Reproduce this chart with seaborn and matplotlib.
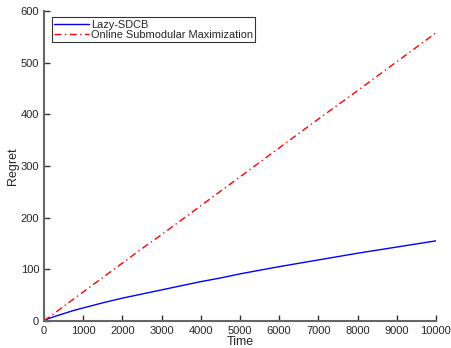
import numpy as np
import pandas as pd
import matplotlib
matplotlib.use("Agg")
import matplotlib.pyplot as plt
import seaborn as sns

# values
time = [0, 100, 250, 500, 750, 1000, 1500, 2000, 2500, 3000, 3500, 4000, 4500, 5000,
        6000, 7000, 8000, 9000, 10000]
lazy_sdcb = [0, 4, 8, 14, 20, 25, 35, 44, 52, 60, 68, 76, 83, 91,
             105, 118, 131, 143, 155]
online_submod = [0, 5.6, 14, 28, 42, 56, 84, 112, 140, 167, 195, 223, 251, 279,
                 335, 391, 446, 502, 558]

labels = ["Lazy-SDCB", "Online Submodular Maximization"]
x_ticks = [0, 1000, 2000, 3000, 4000, 5000, 6000, 7000, 8000, 9000, 10000]
y_ticks = [0, 100, 200, 300, 400, 500, 600]

df = pd.DataFrame({
    "Time": time * 2,
    "Regret": lazy_sdcb + online_submod,
    "method": [labels[0]] * len(time) + [labels[1]] * len(time),
})

sns.set_style("ticks")
plt.rcParams["font.family"] = ["Liberation Sans", "DejaVu Sans"]
plt.rcParams["font.size"] = 8

fig = plt.figure(figsize=(4.51, 3.48), dpi=100)
ax = fig.add_axes([0.0976, 0.078, 0.869, 0.890])

sns.lineplot(data=df, x="Time", y="Regret", hue="method", style="method",
             palette={labels[0]: "#0000ff", labels[1]: "#ff0000"},
             dashes={labels[0]: "", labels[1]: (5, 2.5, 1, 2.5)},
             linewidth=1.0, ax=ax)

ax.set_xlim(0, 10000)
ax.set_ylim(0, 600)
ax.set_xticks(x_ticks)
ax.set_yticks(y_ticks)
ax.tick_params(direction="in", length=4, width=1, colors="#333333",
               labelsize=8, labelcolor="#262626")
for s in ["top", "right"]:
    ax.spines[s].set_visible(False)
for s in ["left", "bottom"]:
    ax.spines[s].set_color("#666666")
    ax.spines[s].set_linewidth(1.5)

ax.set_xlabel("Time", fontsize=9, labelpad=0)
ax.set_ylabel("Regret", fontsize=9, labelpad=1)

leg = ax.legend(loc="upper left", bbox_to_anchor=(0.02, 0.98), frameon=True,
                fancybox=False, edgecolor="black", fontsize=7.9,
                handlelength=3.2, handletextpad=0.15, borderpad=0.2,
                labelspacing=0.05, borderaxespad=0)
leg.get_frame().set_linewidth(0.8)

fig.savefig("out.png", dpi=100)
